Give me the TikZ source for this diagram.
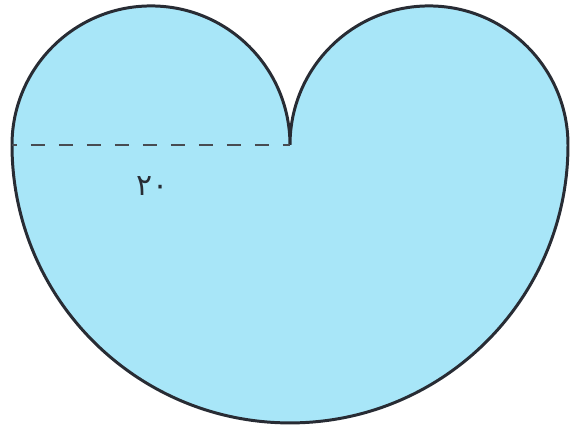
\documentclass[tikz,border=0pt]{standalone}
\usepackage{fontspec}
\newfontfamily\digitfont[Script=Arabic]{DejaVu Sans}
\usetikzlibrary{positioning, calc}
\definecolor{lobefill}{RGB}{168,230,248}
\definecolor{edgegray}{RGB}{40,44,52}

\begin{document}
\begin{tikzpicture}[
  scale=0.02,
  outline/.style    = {draw=edgegray, line width=1.7pt, fill=lobefill},
  radiusline/.style = {draw=edgegray!85, line width=1.1pt,
                       dash pattern=on 0.28cm off 0.28cm, dash phase=0.18cm},
  lbl/.style        = {font=\digitfont\fontsize{17}{19}\selectfont,
                       text=edgegray, inner sep=0pt},
]
  \useasboundingbox (0,0) rectangle (571,433);

  \coordinate (leftend) at (12,288);
  \coordinate (cusp)    at (290,288);

  % two small lobes on top, big half circle below
  \path[outline] (leftend)
      arc[start angle=180, end angle=0,    radius=139]
      arc[start angle=180, end angle=0,    radius=139]
      arc[start angle=0,   end angle=-180, radius=278] -- cycle;

  \draw[radiusline] (leftend) -- (cusp);

  \node[lbl] (radius) at (153,247) {۲۰};
\end{tikzpicture}
\end{document}
